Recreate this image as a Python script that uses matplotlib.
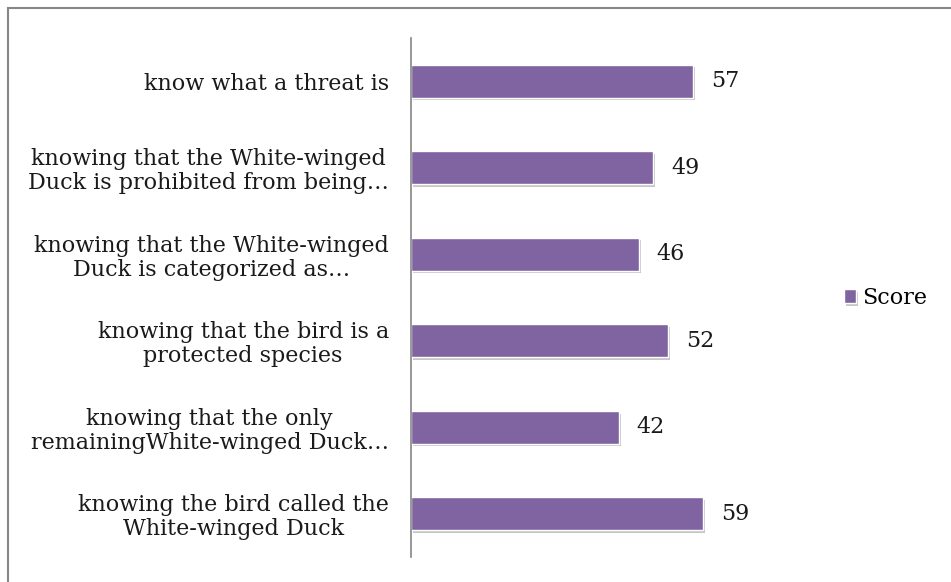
import matplotlib.pyplot as plt
import matplotlib.patheffects as pe
from matplotlib.patches import Rectangle

categories = [
    "know what a threat is",
    "knowing that the White-winged\nDuck is prohibited from being\u2026",
    "knowing that the White-winged\nDuck is categorized as\u2026",
    "knowing that the bird is a\nprotected species",
    "knowing that the only\nremainingWhite-winged Duck\u2026",
    "knowing the bird called the\nWhite-winged Duck",
]
scores = [57, 49, 46, 52, 42, 59]
series_name = "Score"

plt.rcParams['font.family'] = ['DejaVu Serif']
fs = 16

fig = plt.figure(figsize=(9.51, 5.82), dpi=100)
ax = fig.add_axes([0.4322, 0.043, 0.364, 0.892])

ypos = range(len(categories))
bars = ax.barh(ypos, scores, height=0.38, color="#8064A2", edgecolor="white",
               linewidth=1.0, label=series_name)
for b in bars:
    b.set_path_effects([pe.SimplePatchShadow(offset=(1.5, -2), alpha=0.3, shadow_rgbFace="#444444"),
                        pe.Normal()])

for y, v in zip(ypos, scores):
    ax.annotate(str(v), (v, y), xytext=(13, 0), textcoords="offset points",
                va="center", ha="left", fontsize=fs, color="#1a1a1a")

ax.set_xlim(0, 70)
ax.set_ylim(len(categories) - 0.5, -0.5)
ax.set_yticks(list(ypos))
ax.set_yticklabels(categories, fontsize=fs, multialignment="center",
                   linespacing=1.12, color="#1a1a1a")
ax.tick_params(axis="y", length=0, pad=16)
ax.set_xticks([])
for s in ["top", "right", "bottom"]:
    ax.spines[s].set_visible(False)
ax.spines["left"].set_color("#868686")
ax.spines["left"].set_linewidth(1.2)

leg = fig.legend(loc="center left", bbox_to_anchor=(0.866, 0.488), frameon=False,
                 fontsize=fs, handlelength=0.55, handleheight=0.55, handletextpad=0.3)

# outer chart frame
fig.patches.append(Rectangle((8 / 951, -0.05), 1.2, 1 - 8 / 582 + 0.05,
                             transform=fig.transFigure, fill=False,
                             edgecolor="#878787", linewidth=1.5))

fig.savefig("out.png", dpi=100)
